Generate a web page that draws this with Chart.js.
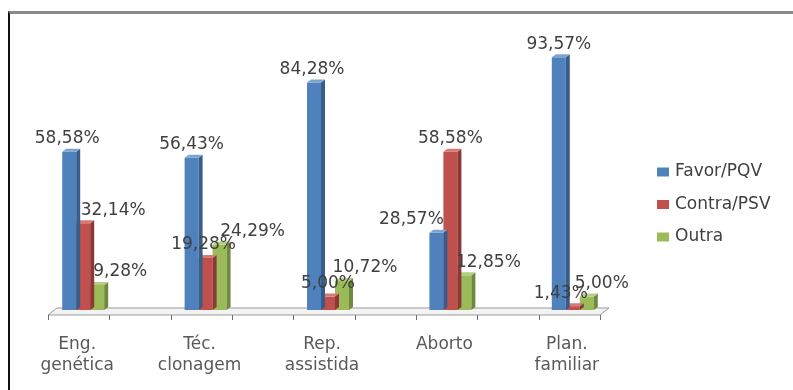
<!DOCTYPE html>
<html>
<head>
<meta charset="utf-8">
<title>Opinião</title>
<script src="https://cdn.jsdelivr.net/npm/chart.js@4.4.1/dist/chart.umd.min.js"></script>
<style>
    body { margin: 0; background: #fff; overflow: hidden; }
    .frame {
        position: absolute; left: 8px; top: 11px; width: 900px; height: 500px;
        border-top: 3px solid #8a8a8a; border-left: 2px solid #111;
    }
    #myChart { position: absolute; left: 0; top: 0; }
</style>
</head>
<body>
<div class="frame"></div>
<canvas id="myChart" width="793" height="390"></canvas>
<script>
// Data
const categories = [['Eng.', 'genética'], ['Téc.', 'clonagem'], ['Rep.', 'assistida'], ['Aborto'], ['Plan.', 'familiar']];
const seriesNames = ['Favor/PQV', 'Contra/PSV', 'Outra'];
const favorValues = [58.58, 56.43, 84.28, 28.57, 93.57];
const contraValues = [32.14, 19.28, 5.00, 58.58, 1.43];
const outraValues = [9.28, 24.29, 10.72, 12.85, 5.00];

// colours: front, side, top
const colors = ['#4F81BD', '#C0504D', '#9BBB59'];
const sideColors = ['#385D8A', '#8C3836', '#71893F'];
const topColors = ['#7FA3D0', '#D47A77', '#B5CF80'];

// how far each value label sits left/right of its bar (px)
const labelShift = [[-2, 0, -2, -25, 0], [30, -2, 0, 0, -12], [23, 33, 23, 24, 15]];

const FONT = '"DejaVu Sans", sans-serif';

function pct(v) {
    return v.toFixed(2).replace('.', ',') + '%';
}

// fake 3d: floor, bar sides, labels and legend
const bar3d = {
    id: 'bar3d',
    beforeDatasetsDraw(chart) {
        const ctx = chart.ctx;
        const a = chart.chartArea;
        let fl = a.left + 26, fr = a.right - 34, fy = a.bottom + 5;
        ctx.save();
        ctx.beginPath();
        ctx.moveTo(fl, fy);
        ctx.lineTo(fr, fy);
        ctx.lineTo(fr + 9, fy - 7);
        ctx.lineTo(fl + 9, fy - 7);
        ctx.closePath();
        ctx.fillStyle = '#f3f3f3';
        ctx.fill();
        ctx.strokeStyle = '#9a9a9a';
        ctx.lineWidth = 1;
        ctx.stroke();
        ctx.beginPath();
        for (let i = 0; i < 10; i++) {
            let x = Math.round(fl + i * (fr - fl) / 9) + 0.5;
            ctx.moveTo(x, fy);
            ctx.lineTo(x, fy + 5);
        }
        ctx.strokeStyle = '#707070';
        ctx.stroke();
        ctx.restore();
    },
    afterDatasetDraw(chart, args) {
        const ctx = chart.ctx;
        const i = args.index;
        const dx = 4, dy = 3;
        ctx.save();
        chart.getDatasetMeta(i).data.forEach(function(bar) {
            let left = bar.x - bar.width / 2, right = bar.x + bar.width / 2;
            ctx.fillStyle = sideColors[i];
            ctx.beginPath();
            ctx.moveTo(right, bar.y);
            ctx.lineTo(right + dx, bar.y - dy);
            ctx.lineTo(right + dx, bar.base - dy);
            ctx.lineTo(right, bar.base);
            ctx.closePath();
            ctx.fill();
            ctx.fillStyle = topColors[i];
            ctx.beginPath();
            ctx.moveTo(left, bar.y);
            ctx.lineTo(left + dx, bar.y - dy);
            ctx.lineTo(right + dx, bar.y - dy);
            ctx.lineTo(right, bar.y);
            ctx.closePath();
            ctx.fill();
        });
        ctx.restore();
    },
    afterDatasetsDraw(chart) {
        const ctx = chart.ctx;
        ctx.save();
        ctx.font = '17px ' + FONT;
        ctx.fillStyle = '#404040';
        ctx.textAlign = 'center';
        ctx.textBaseline = 'middle';
        chart.data.datasets.forEach(function(ds, i) {
            chart.getDatasetMeta(i).data.forEach(function(bar, j) {
                ctx.fillText(pct(ds.data[j]), bar.x + labelShift[i][j], bar.y - 13);
            });
        });
        ctx.restore();
    },
    afterDraw(chart) {
        const ctx = chart.ctx;
        const a = chart.chartArea;
        let x0 = a.right + 23;
        ctx.save();
        ctx.font = '17px ' + FONT;
        ctx.textBaseline = 'middle';
        chart.data.datasets.forEach(function(ds, i) {
            let y = a.top + 132 + i * 32.5;
            ctx.fillStyle = colors[i];
            ctx.fillRect(x0, y - 4.5, 12, 9);
            ctx.fillStyle = '#404040';
            ctx.fillText(ds.label, x0 + 18, y);
        });
        ctx.restore();
    }
};

// Chart data configuration
const data = {
    labels: categories,
    datasets: [
        { label: seriesNames[0], data: favorValues, backgroundColor: colors[0] },
        { label: seriesNames[1], data: contraValues, backgroundColor: colors[1] },
        { label: seriesNames[2], data: outraValues, backgroundColor: colors[2] }
    ]
};

// Chart configuration
const config = {
    type: 'bar',
    data: data,
    options: {
        responsive: false,
        animation: false,
        devicePixelRatio: 1,
        categoryPercentage: 0.343,
        barPercentage: 1,
        layout: { padding: { left: 22, right: 159, top: 40, bottom: 12 } },
        plugins: {
            legend: { display: false },
            tooltip: { enabled: false }
        },
        scales: {
            x: {
                grid: { display: false, drawTicks: false },
                border: { display: false },
                ticks: {
                    color: '#595959',
                    font: { family: FONT, size: 17, lineHeight: 1.25 },
                    padding: 24,
                    labelOffset: -6,
                    maxRotation: 0
                },
                afterFit: function(scale) {
                    scale.height = 68;
                }
            },
            y: {
                display: false,
                min: 0,
                max: 100
            }
        }
    },
    plugins: [bar3d]
};

// Create a new chart instance
const chart = new Chart(document.getElementById('myChart'), config);
</script>
</body>
</html>
